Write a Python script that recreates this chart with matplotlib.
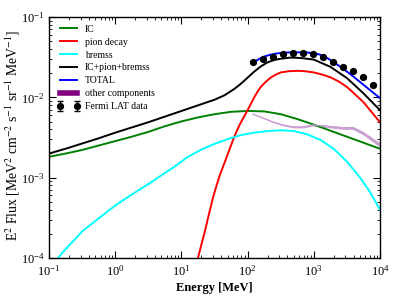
import numpy as np
import matplotlib
matplotlib.use("Agg")
import matplotlib.pyplot as plt

plt.rcParams['font.family'] = ['Liberation Serif', 'DejaVu Serif']
plt.rcParams['mathtext.fontset'] = 'stix'

# log10(E [MeV]) and log10(E^2 flux)
ic_logE = [-1.0, -0.75, -0.5, -0.25, 0.0, 0.25, 0.5, 0.75, 1.0, 1.25, 1.5, 1.75, 2.0,
           2.25, 2.5, 2.75, 3.0, 3.25, 3.5, 3.75, 4.0]
ic_logF = [-2.74, -2.70, -2.655, -2.60, -2.545, -2.49, -2.43, -2.36, -2.30, -2.25, -2.21,
           -2.18, -2.17, -2.175, -2.21, -2.27, -2.34, -2.415, -2.49, -2.565, -2.64]

pion_logE = [1.2, 1.25, 1.3, 1.36, 1.42, 1.48, 1.53, 1.58, 1.64, 1.69, 1.74, 1.78, 1.83,
             1.88, 1.94, 2.0, 2.05, 2.1, 2.15, 2.2, 2.27, 2.34, 2.42, 2.5, 2.62, 2.75,
             2.87, 3.0, 3.12, 3.25, 3.37, 3.5, 3.62, 3.75, 3.87, 4.0]
pion_logF = [-4.15, -4.0, -3.84, -3.65, -3.44, -3.24, -3.10, -2.97, -2.84, -2.73, -2.62,
             -2.53, -2.43, -2.34, -2.25, -2.16, -2.08, -2.00, -1.93, -1.87, -1.81, -1.76,
             -1.72, -1.69, -1.675, -1.67, -1.675, -1.69, -1.715, -1.75, -1.80, -1.87,
             -1.96, -2.06, -2.18, -2.31]

brem_logE = [-1.0, -0.864, -0.75, -0.6, -0.49, -0.3, -0.1, 0.03, 0.25, 0.5, 0.7, 0.9,
             1.1, 1.3, 1.5, 1.7, 1.9, 2.1, 2.3, 2.5, 2.7, 2.9, 3.1, 3.3, 3.5, 3.7, 3.85, 4.0]
brem_logF = [-4.13, -4.0, -3.89, -3.76, -3.66, -3.54, -3.41, -3.33, -3.21, -3.08, -2.97,
             -2.86, -2.74, -2.65, -2.58, -2.52, -2.47, -2.44, -2.42, -2.41, -2.42, -2.46,
             -2.53, -2.64, -2.80, -3.00, -3.18, -3.40]

sum_logE = [-1.0, -0.75, -0.5, -0.25, 0.0, 0.25, 0.5, 0.75, 1.0, 1.25, 1.5, 1.65, 1.8,
            1.9, 2.0, 2.1, 2.2, 2.3, 2.4, 2.5, 2.65, 2.8, 3.0, 3.25, 3.5, 3.75, 4.0]
sum_logF = [-2.70, -2.64, -2.575, -2.51, -2.44, -2.375, -2.31, -2.24, -2.17, -2.10, -2.03,
            -1.975, -1.895, -1.83, -1.755, -1.68, -1.615, -1.565, -1.535, -1.52, -1.505,
            -1.51, -1.53, -1.62, -1.76, -1.95, -2.16]

tot_logE = [2.08, 2.14, 2.19, 2.26, 2.34, 2.43, 2.53, 2.64, 2.75, 2.87, 3.0, 3.1, 3.2,
            3.3, 3.4, 3.55, 3.7, 3.85, 4.0]
tot_logF = [-1.57, -1.54, -1.515, -1.49, -1.47, -1.455, -1.445, -1.44, -1.44, -1.44, -1.45,
            -1.47, -1.51, -1.56, -1.62, -1.71, -1.81, -1.91, -2.01]

fermi_E = [120, 170, 240, 339, 479, 692, 977, 1380, 1950, 2754, 3890, 5500, 7760]
fermi_logF = [-1.559, -1.522, -1.497, -1.460, -1.447, -1.447, -1.460, -1.497, -1.559,
              -1.621, -1.671, -1.746, -1.846]
fermi_relerr = [0.02, 0.02, 0.02, 0.02, 0.02, 0.02, 0.02, 0.02, 0.02, 0.02, 0.025, 0.03, 0.03]

other_E = [120, 170, 240, 339, 479, 692, 977, 1380, 1950, 2754, 3890, 5500, 7760, 10000]
other_logF = [-2.207, -2.257, -2.306, -2.344, -2.369, -2.369, -2.344, -2.356, -2.369,
              -2.381, -2.381, -2.443, -2.530, -2.593]
other_halfw = [0.004, 0.005, 0.007, 0.009, 0.011, 0.012, 0.013, 0.015, 0.016, 0.018,
               0.020, 0.022, 0.025, 0.028]

def p10(a):
    return 10.0 ** np.asarray(a)

fig = plt.figure(figsize=(3.99, 2.99), dpi=100)
ax = fig.add_axes([49/399, 41/299, 331/399, 241/299])

lw = 1.4
ax.plot(p10(ic_logE), p10(ic_logF), color='#008000', lw=lw, label='IC')
ax.plot(p10(pion_logE), p10(pion_logF), color='#ff0000', lw=lw, label='pion decay')
ax.plot(p10(brem_logE), p10(brem_logF), color='#00ffff', lw=lw, label='bremss')
ax.plot(p10(sum_logE), p10(sum_logF), color='black', lw=lw, label='IC+pion+bremss')
ax.plot(p10(tot_logE), p10(tot_logF), color='#0000ff', lw=lw, label='TOTAL')

oF = np.asarray(other_logF)
ow = np.asarray(other_halfw)
ax.fill_between(other_E, p10(oF - ow), p10(oF + ow), color='#c8a0d2', lw=0, alpha=0.9)
ax.plot(other_E, p10(oF), color='#c89ad2', lw=0.9)
ax.plot([], [], color='#800080', lw=4, label='other components')

fF = p10(fermi_logF)
ax.errorbar(fermi_E, fF, yerr=fF * np.asarray(fermi_relerr), fmt='o', color='black',
            ms=4.2, capsize=2, elinewidth=0.8, lw=0, label='Fermi LAT data')

ax.set_xscale('log')
ax.set_yscale('log')
ax.set_xlim(1e-1, 1e4)
ax.set_ylim(1e-4, 1e-1)

ax.tick_params(which='both', direction='in', top=True, right=True, labelsize=9)
ax.tick_params(which='major', length=5, width=0.8, pad=3)
ax.tick_params(axis='x', which='major', pad=4)
ax.tick_params(which='minor', length=2.5, width=0.6)
for s in ax.spines.values():
    s.set_linewidth(1.0)

ax.set_xlabel('Energy [MeV]', fontsize=9, fontweight='bold')
ax.xaxis.set_label_coords(0.5, -0.098)
ax.set_ylabel(r'E$^2$ Flux [MeV$^2$ cm$^{-2}$ s$^{-1}$ sr$^{-1}$ MeV$^{-1}$]', fontsize=9.8)
ax.yaxis.set_label_coords(-0.082, 0.51)

leg = ax.legend(loc='upper left', frameon=False, fontsize=7, numpoints=2,
                handlelength=2.4, handletextpad=0.5, labelspacing=0.4,
                borderaxespad=0.4)

fig.savefig('out.png', dpi=100)
